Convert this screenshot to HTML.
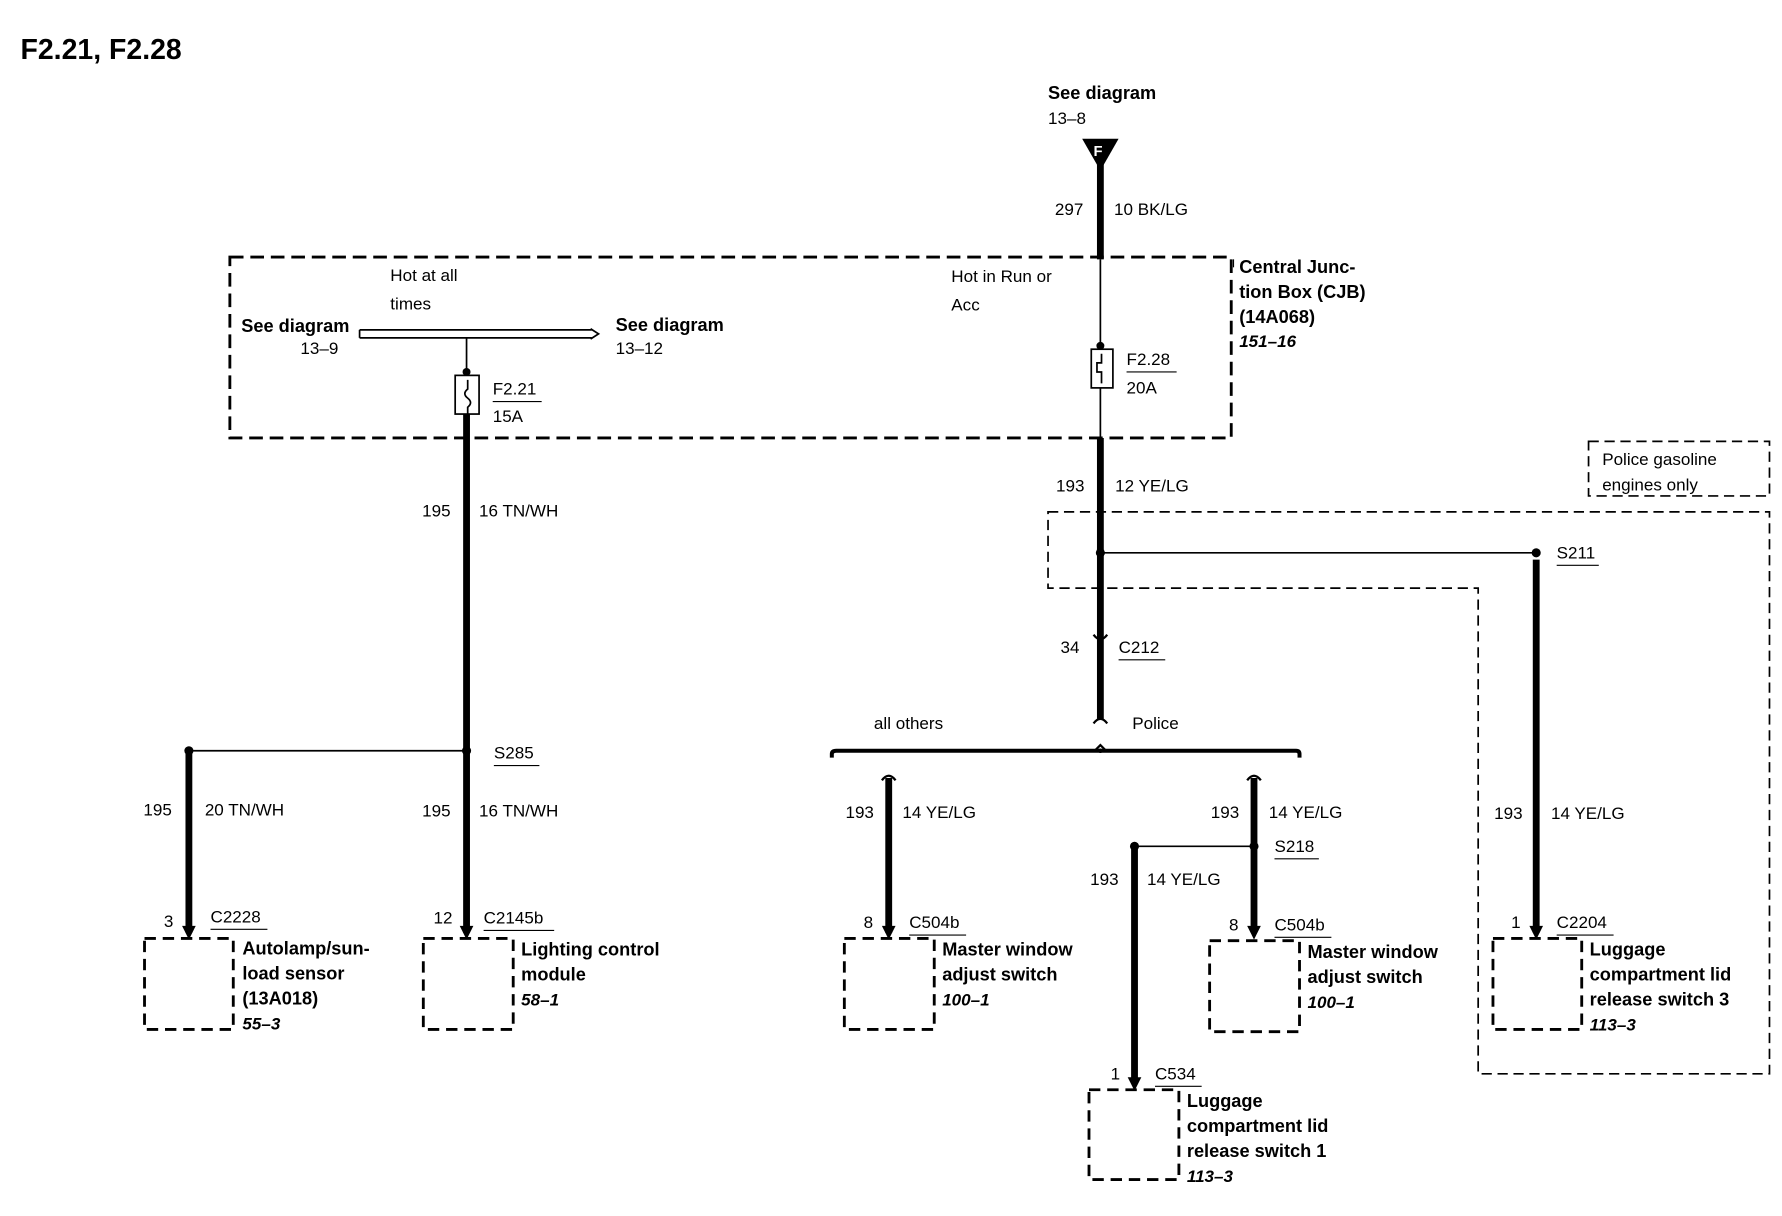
<!DOCTYPE html>
<html><head><meta charset="utf-8"><style>
html,body{margin:0;padding:0;background:#fff;}
svg{display:block}
text{font-family:"Liberation Sans",Arial,sans-serif;font-size:15px;fill:#000}
.b{font-weight:bold;font-size:16px}
.i{font-weight:bold;font-style:italic;font-size:15px}
</style></head><body>
<svg width="1782" height="1216" viewBox="0 0 1566 1069" preserveAspectRatio="none" xmlns="http://www.w3.org/2000/svg">
<g stroke="#000" fill="none">
<!-- CJB box -->
<rect x="202" y="226" width="880" height="159" stroke-width="2.5" stroke-dasharray="12,6"/>
<!-- police boxes -->
<rect x="1396" y="388" width="159" height="48" stroke-width="1.5" stroke-dasharray="9,5"/>
<polygon points="921,450 1555,450 1555,944 1299,944 1299,517 921,517" stroke-width="1.5" stroke-dasharray="9,5"/>
<!-- top wire -->
<line x1="967" y1="140" x2="967" y2="228" stroke-width="6"/>
<line x1="967" y1="228" x2="967" y2="307" stroke-width="1.5"/>
<rect x="959" y="307" width="19" height="34" stroke-width="1.5"/>
<path d="M968,311 v8 h-4 v8 h4 v10" stroke-width="1.5"/>
<line x1="967" y1="341" x2="967" y2="386" stroke-width="1.5"/>
<line x1="967" y1="385" x2="967" y2="632" stroke-width="6"/>
<path d="M961,558 q6,8 12,0" stroke-width="2"/>
<path d="M961,636 q6,-8 12,0" stroke-width="2"/>
<!-- bracket -->
<path d="M731,666 v-3 q0,-3 4,-3 h404 q3,0 3,3 v3" stroke-width="3.5"/>
<path d="M962,660 l5,-5 l5,5" stroke-width="2"/>
<!-- busbar -->
<line x1="316" y1="290" x2="520" y2="290" stroke-width="1.5"/>
<line x1="316" y1="297" x2="520" y2="297" stroke-width="1.5"/>
<line x1="316" y1="290" x2="316" y2="297" stroke-width="1.5"/>
<path d="M519,289 l7,4.5 l-7,4.5" stroke-width="1.5"/>
<line x1="410" y1="297" x2="410" y2="330" stroke-width="1.5"/>
<rect x="400" y="330" width="21" height="34" stroke-width="1.5"/>
<path d="M411,334 v8 q-5,4 0,8 q5,4 0,8 v6" stroke-width="1.5"/>
<line x1="410" y1="364" x2="410" y2="820" stroke-width="6"/>
<!-- S285 -->
<line x1="166" y1="660" x2="410" y2="660" stroke-width="1.5"/>
<line x1="166" y1="660" x2="166" y2="820" stroke-width="6"/>
<!-- S211 -->
<line x1="967" y1="486" x2="1350" y2="486" stroke-width="1.5"/>
<line x1="1350" y1="492" x2="1350" y2="820" stroke-width="6"/>
<!-- branches -->
<line x1="781" y1="684" x2="781" y2="820" stroke-width="6"/>
<path d="M775,686 q6,-8 12,0" stroke-width="2"/>
<line x1="1102" y1="684" x2="1102" y2="820" stroke-width="6"/>
<path d="M1096,686 q6,-8 12,0" stroke-width="2"/>
<line x1="997" y1="744" x2="1102" y2="744" stroke-width="1.5"/>
<line x1="997" y1="744" x2="997" y2="953" stroke-width="6"/>
<!-- component boxes -->
<g stroke-width="2.5" stroke-dasharray="10,6">
<rect x="127" y="825" width="78" height="80"/>
<rect x="372" y="825" width="79" height="80"/>
<rect x="742" y="825" width="79" height="80"/>
<rect x="1063" y="827" width="79" height="80"/>
<rect x="1312" y="825" width="78" height="80"/>
<rect x="957" y="958" width="79" height="79"/>
</g>
<!-- underlines -->
<g stroke-width="1">
<line x1="990" y1="327" x2="1034" y2="327"/><line x1="433" y1="353" x2="476" y2="353"/>
<line x1="983" y1="580" x2="1024" y2="580"/><line x1="434" y1="673" x2="474" y2="673"/>
<line x1="1368" y1="497" x2="1405" y2="497"/><line x1="1120" y1="755" x2="1159" y2="755"/>
<line x1="185" y1="817" x2="235" y2="817"/><line x1="425" y1="818" x2="487" y2="818"/>
<line x1="799" y1="822" x2="849" y2="822"/><line x1="1120" y1="824" x2="1170" y2="824"/>
<line x1="1368" y1="822" x2="1418" y2="822"/><line x1="1015" y1="955" x2="1056" y2="955"/>
<line x1="1084" y1="228" x2="1084" y2="235"/>
</g>
</g>
<!-- F triangle -->
<polygon points="951,122 983,122 967,150" fill="#000"/>
<text x="961" y="137" style="fill:#fff;font-weight:bold;font-size:13px">F</text>
<!-- dots -->
<g fill="#000">
<circle cx="967" cy="304" r="3.5"/><circle cx="410" cy="327" r="3.5"/>
<circle cx="410" cy="660" r="4"/><circle cx="166" cy="660" r="4"/>
<circle cx="967" cy="486" r="4"/><circle cx="1350" cy="486" r="4"/>
<circle cx="1102" cy="744" r="4"/><circle cx="997" cy="744" r="4"/>
<circle cx="967" cy="660" r="2"/>
<polygon points="160,814 172,814 166,826"/><polygon points="404,814 416,814 410,826"/>
<polygon points="775,814 787,814 781,826"/><polygon points="1096,814 1108,814 1102,826"/>
<polygon points="1344,814 1356,814 1350,826"/><polygon points="991,947 1003,947 997,959"/>
</g>
<text x="18" y="52" style="font-weight:bold;font-size:25px">F2.21, F2.28</text>
<text x="921" y="87" class="b">See diagram</text><text x="921" y="109">13–8</text>
<text x="927" y="189">297</text><text x="979" y="189">10 BK/LG</text>
<text x="1089" y="240" class="b">Central Junc-</text><text x="1089" y="262" class="b">tion Box (CJB)</text>
<text x="1089" y="284" class="b">(14A068)</text><text x="1089" y="305" class="i">151–16</text>
<text x="343" y="247">Hot at all</text><text x="343" y="272">times</text>
<text x="212" y="292" class="b">See diagram</text><text x="264" y="311">13–9</text>
<text x="541" y="291" class="b">See diagram</text><text x="541" y="311">13–12</text>
<text x="433" y="347">F2.21</text><text x="433" y="371">15A</text>
<text x="836" y="248">Hot in Run or</text><text x="836" y="273">Acc</text>
<text x="990" y="321">F2.28</text><text x="990" y="346">20A</text>
<text x="928" y="432">193</text><text x="980" y="432">12 YE/LG</text>
<text x="1408" y="409">Police gasoline</text><text x="1408" y="431">engines only</text>
<text x="1368" y="491">S211</text>
<text x="932" y="574">34</text><text x="983" y="574">C212</text>
<text x="768" y="641">all others</text><text x="995" y="641">Police</text>
<text x="371" y="454">195</text><text x="421" y="454">16 TN/WH</text>
<text x="434" y="667">S285</text>
<text x="126" y="717">195</text><text x="180" y="717">20 TN/WH</text>
<text x="371" y="718">195</text><text x="421" y="718">16 TN/WH</text>
<text x="743" y="719">193</text><text x="793" y="719">14 YE/LG</text>
<text x="1064" y="719">193</text><text x="1115" y="719">14 YE/LG</text>
<text x="1313" y="720">193</text><text x="1363" y="720">14 YE/LG</text>
<text x="1120" y="749">S218</text>
<text x="958" y="778">193</text><text x="1008" y="778">14 YE/LG</text>
<text x="144" y="815">3</text><text x="185" y="811">C2228</text>
<text x="213" y="839" class="b">Autolamp/sun-</text><text x="213" y="861" class="b">load sensor</text>
<text x="213" y="883" class="b">(13A018)</text><text x="213" y="905" class="i">55–3</text>
<text x="381" y="812">12</text><text x="425" y="812">C2145b</text>
<text x="458" y="840" class="b">Lighting control</text><text x="458" y="862" class="b">module</text><text x="458" y="884" class="i">58–1</text>
<text x="759" y="816">8</text><text x="799" y="816">C504b</text>
<text x="828" y="840" class="b">Master window</text><text x="828" y="862" class="b">adjust switch</text><text x="828" y="884" class="i">100–1</text>
<text x="1080" y="818">8</text><text x="1120" y="818">C504b</text>
<text x="1149" y="842" class="b">Master window</text><text x="1149" y="864" class="b">adjust switch</text><text x="1149" y="886" class="i">100–1</text>
<text x="1328" y="816">1</text><text x="1368" y="816">C2204</text>
<text x="1397" y="840" class="b">Luggage</text><text x="1397" y="862" class="b">compartment lid</text>
<text x="1397" y="884" class="b">release switch 3</text><text x="1397" y="906" class="i">113–3</text>
<text x="976" y="949">1</text><text x="1015" y="949">C534</text>
<text x="1043" y="973" class="b">Luggage</text><text x="1043" y="995" class="b">compartment lid</text>
<text x="1043" y="1017" class="b">release switch 1</text><text x="1043" y="1039" class="i">113–3</text>
</svg>
</body></html>
